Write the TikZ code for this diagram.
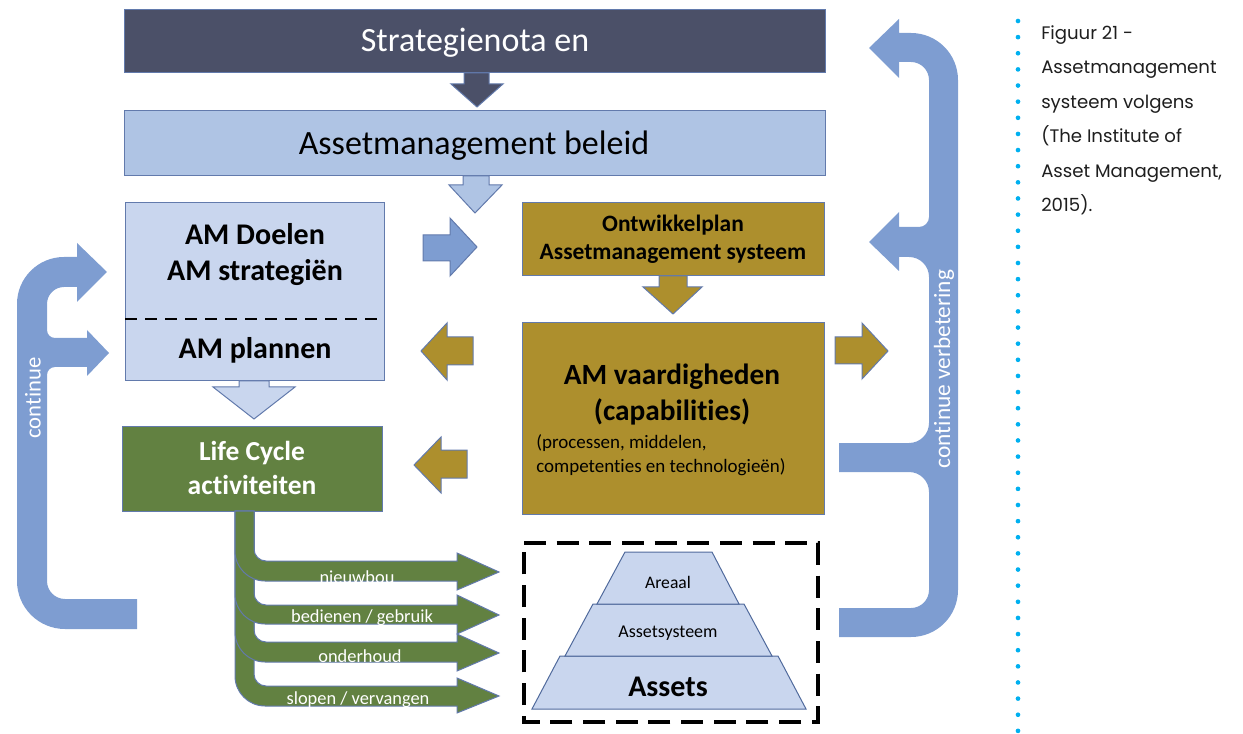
\documentclass[tikz,border=0pt]{standalone}
\usepackage{fontspec}
\setmainfont{Carlito}[Ligatures=NoCommon]
\newfontfamily\capfont{Poppins}
\usetikzlibrary{positioning}

\begin{document}
\begin{tikzpicture}[x=0.75pt,y=0.75pt,yscale=-1,xscale=1,
  rim/.style={draw={rgb, 255:red, 98; green, 122; blue, 172}, line width=0.75},
  slatebox/.style={rim, fill={rgb, 255:red, 75; green, 80; blue, 104}},
  policybox/.style={rim, fill={rgb, 255:red, 175; green, 196; blue, 228}},
  goalbox/.style={rim, fill={rgb, 255:red, 201; green, 214; blue, 238}},
  goldbox/.style={rim, fill={rgb, 255:red, 173; green, 143; blue, 45}},
  leafbox/.style={rim, fill={rgb, 255:red, 98; green, 129; blue, 65}},
  loopfill/.style={fill={rgb, 255:red, 126; green, 157; blue, 209}},
  tier/.style={draw={rgb, 255:red, 80; green, 106; blue, 156}, line width=0.75, fill={rgb, 255:red, 201; green, 214; blue, 238}},
  lbl/.style={inner sep=0.75pt, align=center}
]
\useasboundingbox (0,0) rectangle (1243,734);

%Shape: Rectangle [strategienota]
\draw [slatebox] (124,10) -- (825,10) -- (825,73) -- (124,73) -- cycle ;
%Shape: Down Arrow
\draw [slatebox] (464,73) -- (489,73) -- (489,84) -- (503,84) -- (477,107) -- (451,84) -- (464,84) -- cycle ;
%Shape: Rectangle [beleid]
\draw [policybox] (124,111) -- (825,111) -- (825,176) -- (124,176) -- cycle ;
%Shape: Down Arrow
\draw [policybox] (463,176) -- (489,176) -- (489,185) -- (502,185) -- (475,213) -- (449,185) -- (463,185) -- cycle ;

%Shape: Rectangle [doelen]
\draw [goalbox] (125,203) -- (384,203) -- (384,381) -- (125,381) -- cycle ;
%Straight Lines
\draw [line width=1.9, dash pattern=on 9pt off 6pt] (125,319) -- (384,319) ;
%Shape: Down Arrow
\draw [goalbox] (239,381) -- (269,381) -- (269,387) -- (295,387) -- (254,419) -- (213,387) -- (239,387) -- cycle ;
%Shape: Rectangle [life cycle]
\draw [leafbox] (122,426) -- (382,426) -- (382,511) -- (122,511) -- cycle ;

%Shape: Right Arrow
\draw [rim, loopfill] (423,235) -- (450,235) -- (450,218) -- (477,247) -- (450,276) -- (450,261) -- (423,261) -- cycle ;
%Shape: Rectangle [ontwikkelplan]
\draw [goldbox] (522,203) -- (824,203) -- (824,276) -- (522,276) -- cycle ;
%Shape: Down Arrow
\draw [goldbox] (659,276) -- (687,276) -- (687,287) -- (702,287) -- (673,314) -- (643,287) -- (659,287) -- cycle ;
%Shape: Rectangle [vaardigheden]
\draw [goldbox] (522,323) -- (824,323) -- (824,514) -- (522,514) -- cycle ;
%Shape: Left Arrow
\draw [goldbox] (473,337) -- (447,337) -- (447,323) -- (421,351) -- (447,380) -- (447,365) -- (473,365) -- cycle ;
%Shape: Left Arrow
\draw [goldbox] (467,450) -- (441,450) -- (441,437) -- (414,465) -- (441,493) -- (441,478) -- (467,478) -- cycle ;
%Shape: Right Arrow
\draw [goldbox] (835,337) -- (862,337) -- (862,323) -- (888,351) -- (862,379) -- (862,364) -- (835,364) -- cycle ;

%Shape: Bent Arrow [continue]
\fill [loopfill] (137,629) -- (65,629) arc[start angle=90, end angle=180, radius=48] -- (17,304) arc[start angle=180, end angle=270, radius=47] -- (77,257) -- (77,243) -- (107,272) -- (77,302) -- (77,287) -- (64,287) arc[start angle=270, end angle=180, radius=17] -- (47,330) arc[start angle=180, end angle=90, radius=8] -- (87,338) -- (87,330) -- (109,353) -- (87,376) -- (87,367) -- (55,367) arc[start angle=270, end angle=180, radius=8] -- (47,581) arc[start angle=180, end angle=90, radius=18] -- (137,599) -- cycle ;

%Shape: Bent Arrow [continue verbetering]
\fill [loopfill] (869,48) -- (899,19) -- (899,33) -- (911,33) arc[start angle=-90, end angle=0, radius=47] -- (958,590) arc[start angle=0, end angle=90, radius=47] -- (839,637) -- (839,608) -- (911,608) arc[start angle=90, end angle=0, radius=18] -- (929,492) arc[start angle=0, end angle=-90, radius=20] -- (839,472) -- (839,443) -- (909,443) arc[start angle=90, end angle=0, radius=20] -- (929,277) arc[start angle=0, end angle=-90, radius=20] -- (899,257) -- (899,271) -- (869,242) -- (899,212) -- (899,227) -- (919,227) arc[start angle=90, end angle=0, radius=10] -- (929,80) arc[start angle=0, end angle=-90, radius=18] -- (899,62) -- (899,78) -- cycle ;

%Shape: Bent Arrow [slopen]
\draw [leafbox] (235,511) -- (235,676) arc[start angle=180, end angle=90, radius=30] -- (457,706) -- (457,713) -- (499,696) -- (457,678) -- (457,686) -- (266,686) arc[start angle=90, end angle=180, radius=12] -- (254,511) -- cycle ;
%Shape: Bent Arrow [onderhoud]
\draw [leafbox] (235,511) -- (235,632) arc[start angle=180, end angle=90, radius=30] -- (457,662) -- (457,671) -- (499,653) -- (457,634) -- (457,642) -- (266,642) arc[start angle=90, end angle=180, radius=12] -- (254,511) -- cycle ;
%Shape: Bent Arrow [bedienen]
\draw [leafbox] (235,511) -- (235,594) arc[start angle=180, end angle=90, radius=30] -- (457,624) -- (457,634) -- (499,615) -- (457,595) -- (457,605) -- (266,605) arc[start angle=90, end angle=180, radius=12] -- (254,511) -- cycle ;
%Shape: Bent Arrow [nieuwbou]
\draw [leafbox] (235,511) -- (235,551) arc[start angle=180, end angle=90, radius=30] -- (457,581) -- (457,590) -- (499,572) -- (457,553) -- (457,561) -- (266,561) arc[start angle=90, end angle=180, radius=12] -- (254,511) -- cycle ;

%Shape: Rectangle [assets kader]
\draw [line width=2.3, dash pattern=on 16.5pt off 8pt] (524,543) -- (818,543) -- (818,722) -- (524,722) -- cycle ;
%Shape: Trapezoid
\draw [tier] (560,656) -- (778,656) -- (806,709) -- (532,709) -- cycle ;
%Shape: Trapezoid
\draw [tier] (593,604) -- (744,604) -- (772,656) -- (565,656) -- cycle ;
%Shape: Trapezoid
\draw [tier] (625,552) -- (712,552) -- (739,604) -- (597,604) -- cycle ;

%Straight Lines [stippellijn]
\draw [color={rgb, 255:red, 0; green, 176; blue, 240}, line width=3.5, line cap=round, dash pattern=on 0pt off 12.1pt] (1018,21) -- (1018,745) ;

% Text Node
\draw (475,43) node [lbl, text=white, font=\fontsize{25.5}{30}\selectfont] (strat) {Strategienota en};
% Text Node
\draw (474,146) node [lbl, font=\fontsize{25.5}{30}\selectfont] (beleid) {Assetmanagement beleid};
% Text Node
\draw (255,255) node [lbl, font=\fontsize{22.5}{27}\selectfont\bfseries] (doelen) {AM Doelen\\AM strategiën};
% Text Node
\draw (255,350) node [lbl, font=\fontsize{22.5}{27}\selectfont\bfseries] (plannen) {AM plannen};
% Text Node
\draw (252,468) node [lbl, text=white, font=\fontsize{20.6}{26}\selectfont\bfseries] (lifecycle) {Life Cycle\\activiteiten};
% Text Node
\draw (673,239) node [lbl, font=\fontsize{17.6}{21}\selectfont\bfseries] (ontwikkel) {Ontwikkelplan\\Assetmanagement systeem};
% Text Node
\draw (672,395) node [lbl, font=\fontsize{22}{27}\selectfont\bfseries] (vaardig) {AM vaardigheden\\(capabilities)};
% Text Node
\draw (535,455) node [anchor=west, inner sep=0.75pt, align=left, font=\fontsize{14.25}{18}\selectfont] (procs) {(processen, middelen,\\competenties en technologieën)};

% Text Node
\draw (357,577) node [lbl, text=white, font=\fontsize{13.8}{16}\selectfont] (nieuwbou) {nieuwbou};
% Text Node
\draw (362,618) node [lbl, text=white, font=\fontsize{13.8}{16}\selectfont] (bedienen) {bedienen / gebruik};
% Text Node
\draw (360,656) node [lbl, text=white, font=\fontsize{13.8}{16}\selectfont] (onderhoud) {onderhoud};
% Text Node
\draw (358,700) node [lbl, text=white, font=\fontsize{13.8}{16}\selectfont] (slopen) {slopen / vervangen};

% Text Node
\draw (668,582) node [lbl, font=\fontsize{13.2}{16}\selectfont] (areaal) {Areaal};
% Text Node
\draw (668,633) node [lbl, font=\fontsize{13.5}{16}\selectfont] (assetsys) {Assetsysteem};
% Text Node
\draw (668,687) node [lbl, font=\fontsize{22.5}{27}\selectfont\bfseries] (assets) {Assets};

% Text Node
\draw (33,398) node [lbl, rotate=90, text=white, font=\fontsize{17}{20}\selectfont] (cont) {continue};
% Text Node
\draw (944,369) node [lbl, rotate=90, text=white, font=\fontsize{17.5}{20}\selectfont] (contverb) {continue verbetering};

% Text Node
\draw (1041,25) node [anchor=north west, inner sep=0pt, align=left, text={rgb, 255:red, 30; green, 30; blue, 30}, font=\capfont\fontsize{13.6}{25.9}\selectfont] (cap) {Figuur 21 -\\Assetmanagement\\systeem volgens\\(The Institute of\\Asset Management,\\2015).};

\end{tikzpicture}
\end{document}
